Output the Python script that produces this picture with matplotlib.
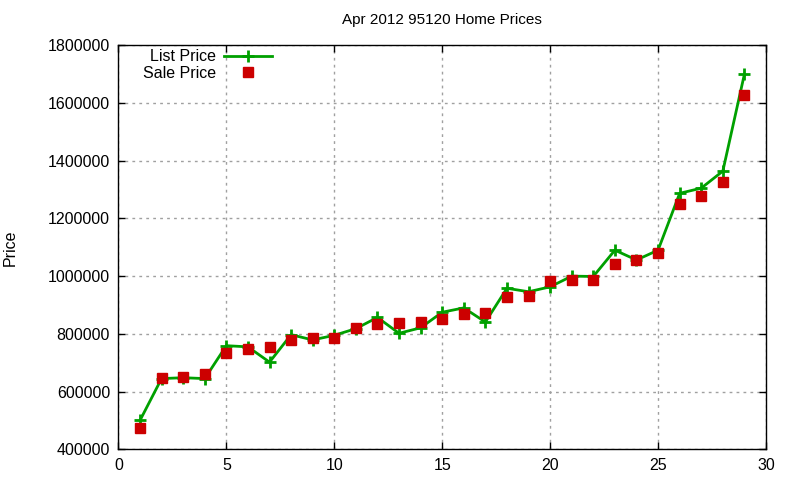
import matplotlib
matplotlib.use("Agg")
import matplotlib.pyplot as plt

plt.rcParams['font.family'] = ['Liberation Sans', 'DejaVu Sans']

# listing index and prices
listing = list(range(1, 30))
list_price = [500000, 645000, 648000, 645000, 759000, 755000, 702000, 797000, 779000, 795000,
              818000, 857000, 802000, 821000, 875000, 890000, 841000, 958000, 946000, 963000,
              1000000, 999000, 1090000, 1056000, 1090000, 1287000, 1305000, 1364000, 1700000]
sale_price = [475000, 647000, 650000, 660000, 735000, 748000, 755000, 780000, 787000, 787000,
              821000, 835000, 838000, 842000, 852000, 870000, 873000, 929000, 932000, 983000,
              988000, 988000, 1043000, 1057000, 1079000, 1251000, 1279000, 1327000, 1629000]

fig = plt.figure(figsize=(8, 4.8), dpi=100)
ax = fig.add_axes([0.148, 0.064, 0.8095, 0.8416])

ax.plot(listing, list_price, color='#00a000', lw=2, marker='+', ms=9, mew=2,
        label='List Price')
ax.plot(listing, sale_price, color='#cc0000', ls='none', marker='s', ms=7,
        label='Sale Price')

ax.set_xlim(0, 30)
ax.set_ylim(400000, 1800000)
ax.set_xticks(range(0, 31, 5))
ax.set_yticks(range(400000, 1800001, 200000))
ax.ticklabel_format(axis='y', style='plain', useOffset=False)
ax.tick_params(direction='in', length=5, width=1, top=True, right=True,
               labelsize=11.5, pad=6)
ax.grid(True, color='#a0a0a0', ls=(0, (2, 3)), lw=1)
for s in ax.spines.values():
    s.set_linewidth(1)

ax.set_title('Apr 2012 95120 Home Prices', fontsize=11, pad=15)
ax.set_ylabel('Price', fontsize=11.5, labelpad=22)

ax.legend(loc='upper left', bbox_to_anchor=(0.02, 1.018), markerfirst=False,
          frameon=False, fontsize=11.5, handlelength=3, handletextpad=0.5,
          labelspacing=0.1, borderaxespad=0.3)

fig.savefig('out.png', dpi=100)
